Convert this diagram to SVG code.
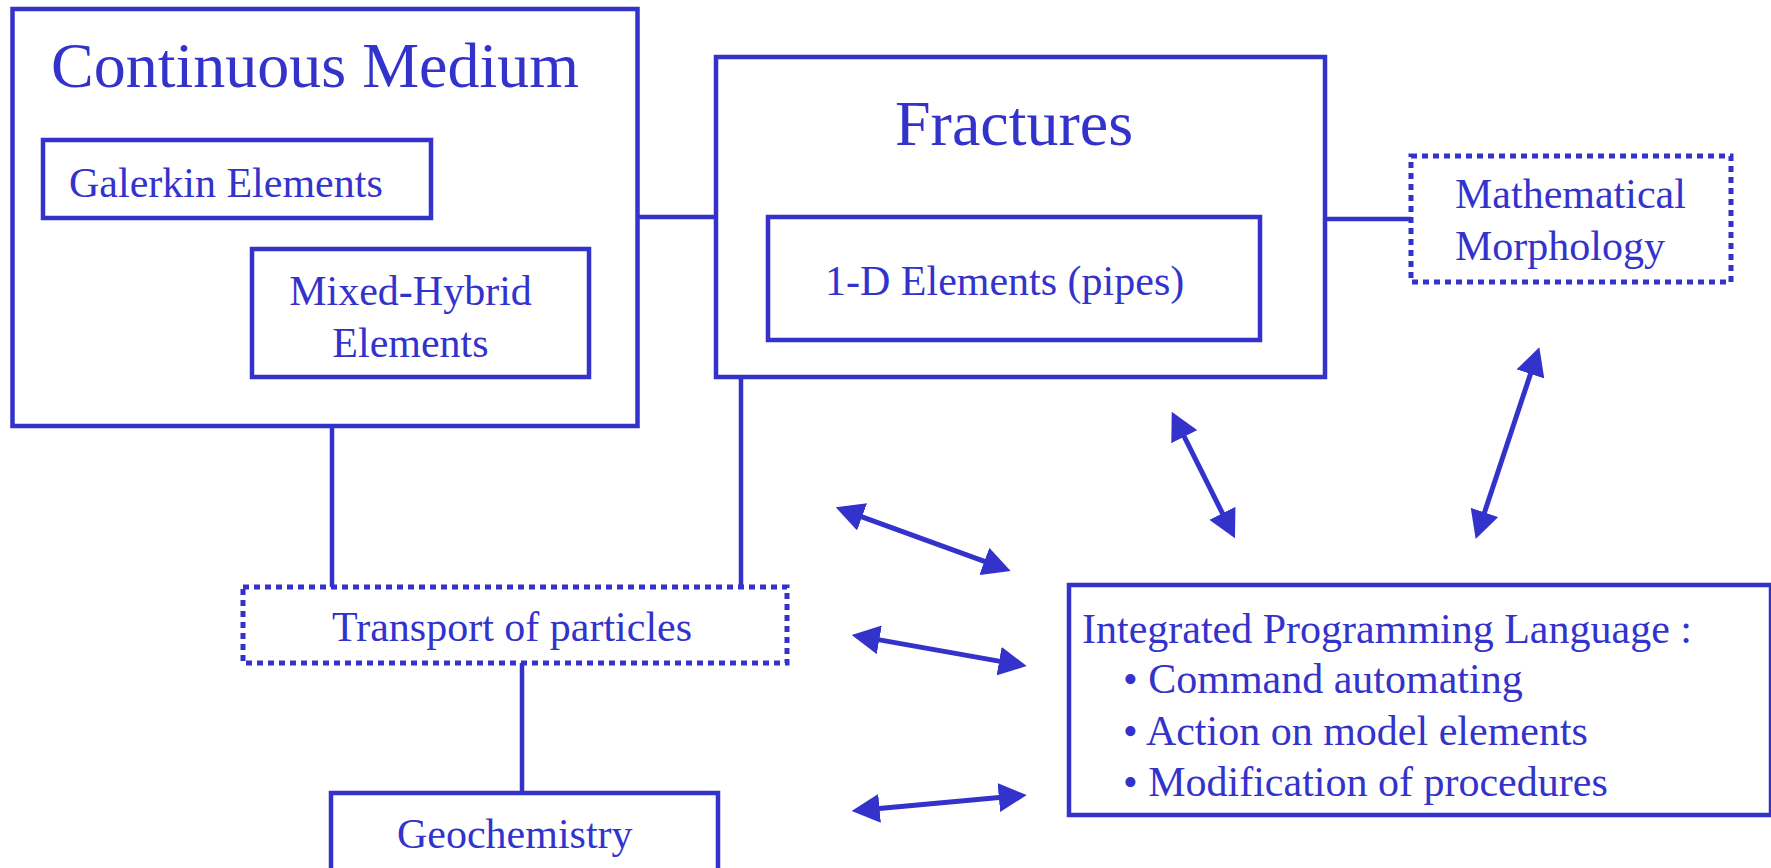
<svg xmlns="http://www.w3.org/2000/svg" width="1771" height="868" viewBox="0 0 1771 868">
<style>
.box{fill:none;stroke:#3333cc;stroke-width:4.5}
.dot{fill:none;stroke:#3333cc;stroke-width:5;stroke-dasharray:6 5}
.ln{fill:none;stroke:#3333cc;stroke-width:4.5}
.arr{fill:none;stroke:#3333cc;stroke-width:5;marker-start:url(#ah);marker-end:url(#ah)}
text{font-family:"Liberation Serif","Times New Roman",serif;fill:#3333cc;font-size:42px}
.big{font-size:64px}
</style>
<defs>
<marker id="ah" markerUnits="userSpaceOnUse" viewBox="0 0 28 29" markerWidth="28" markerHeight="29" refX="14" refY="14.5" orient="auto-start-reverse">
<path d="M0,0 L28,14.5 L0,29 z" fill="#3333cc"/>
</marker>
</defs>
<rect width="1771" height="868" fill="#ffffff"/>
<g id="connectors">
<line class="ln" x1="638" y1="217" x2="716" y2="217"/>
<line class="ln" x1="1325" y1="219" x2="1411" y2="219"/>
<line class="ln" x1="332" y1="426" x2="332" y2="587"/>
<line class="ln" x1="741" y1="377" x2="741" y2="587"/>
<line class="ln" x1="522" y1="663" x2="522" y2="793"/>
<line class="arr" x1="848.9" y1="512.1" x2="997.5" y2="566.2"/>
<line class="arr" x1="865.5" y1="637.4" x2="1012.9" y2="663.6"/>
<line class="arr" x1="865.6" y1="809.7" x2="1012.8" y2="796.3"/>
<line class="arr" x1="1178" y1="424.2" x2="1228.7" y2="525.8"/>
<line class="arr" x1="1534.9" y1="360.6" x2="1480.1" y2="525.7"/>
</g>
<g id="continuous-medium">
<rect class="box" x="12.5" y="9" width="625" height="417"/>
<text class="big" x="51" y="87">Continuous Medium</text>
</g>
<g id="galerkin">
<rect class="box" x="43" y="140" width="388" height="78"/>
<text x="69" y="197">Galerkin Elements</text>
</g>
<g id="mixed-hybrid">
<rect class="box" x="252" y="249" width="337" height="128"/>
<text x="410.5" y="305" text-anchor="middle">Mixed-Hybrid</text>
<text x="410.5" y="357" text-anchor="middle">Elements</text>
</g>
<g id="fractures">
<rect class="box" x="716" y="57" width="609" height="320"/>
<text class="big" x="895" y="145">Fractures</text>
</g>
<g id="pipes">
<rect class="box" x="768" y="217" width="492" height="123"/>
<text x="825" y="295">1-D Elements (pipes)</text>
</g>
<g id="morphology">
<rect class="dot" x="1411" y="156" width="320" height="126"/>
<text x="1455" y="208">Mathematical</text>
<text x="1455" y="260">Morphology</text>
</g>
<g id="transport">
<rect class="dot" x="243" y="587" width="544" height="76"/>
<text x="332" y="641">Transport of particles</text>
</g>
<g id="geochemistry">
<rect class="box" x="331" y="793" width="387" height="100"/>
<text x="397" y="848">Geochemistry</text>
</g>
<g id="ipl">
<rect class="box" x="1069" y="585" width="702" height="230"/>
<text x="1082" y="643">Integrated Programming Language :</text>
<text x="1123" y="693">• Command automating</text>
<text x="1123" y="745">• Action on model elements</text>
<text x="1123" y="796">• Modification of procedures</text>
</g>
</svg>
